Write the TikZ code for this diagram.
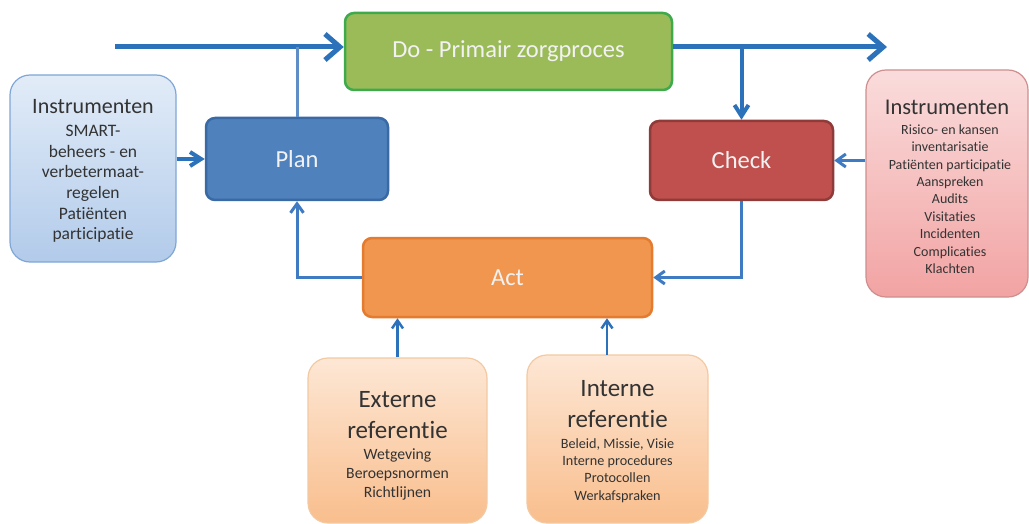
\documentclass[tikz,border=0pt]{standalone}
\usepackage{fontspec}
\setmainfont[Ligatures=NoCommon]{Carlito}
\usetikzlibrary{arrows.meta}
\definecolor{flowblue}{HTML}{2C72BA}
\definecolor{linkblue}{HTML}{3F7BC2}
\definecolor{paleblue}{HTML}{5F8DC6}
\definecolor{planfill}{HTML}{4F81BD}
\definecolor{planline}{HTML}{3A6AA6}
\definecolor{dofill}{HTML}{9BBB59}
\definecolor{doline}{HTML}{3EAA4C}
\definecolor{checkfill}{HTML}{C0504D}
\definecolor{checkline}{HTML}{8E3B39}
\definecolor{actfill}{HTML}{F0964F}
\definecolor{actline}{HTML}{E47B2E}
\definecolor{bluetop}{HTML}{E2ECF8}
\definecolor{bluebot}{HTML}{B2CBEA}
\definecolor{blueline}{HTML}{7FA6D6}
\definecolor{pinktop}{HTML}{FADCDC}
\definecolor{pinkbot}{HTML}{F2A3A3}
\definecolor{pinkline}{HTML}{CF8E8E}
\definecolor{peachtop}{HTML}{FDE7D5}
\definecolor{peachbot}{HTML}{F9BE8D}
\definecolor{peachline}{HTML}{F3C9A2}
\definecolor{boxtext}{HTML}{333333}
\tikzset{
  stagebox/.style={rectangle, rounded corners=9pt, line width=2.5pt, inner sep=0pt,
    text=white!95!black, font=\fontsize{24.5}{29}\selectfont},
  infobox/.style={rectangle, rounded corners=20pt, line width=1.2pt, inner sep=0pt},
  titletext/.style={inner sep=0pt, text=boxtext, align=center},
  bodytext/.style={inner sep=0pt, text=boxtext, align=center},
  mainflow/.style={draw=flowblue, line width=5pt, -{Straight Barb[length=15pt,width=26pt]}},
  branchflow/.style={draw=flowblue, line width=4pt, -{Straight Barb[length=11pt,width=14pt]}},
  feedflow/.style={draw=linkblue, line width=3pt, -{Straight Barb[length=9pt,width=13pt]}},
  paleline/.style={draw=paleblue, line width=3pt},
  upflow/.style={draw=flowblue, line width=2.5pt, -{Straight Barb[length=8pt,width=11pt]}}
}
\begin{document}
\begin{tikzpicture}[x=1pt,y=-1pt]
\useasboundingbox (0,0) rectangle (1029,524);

% stage boxes
\node[stagebox, fill=dofill, draw=doline, minimum width=327pt, minimum height=77pt] (do) at (508.5,51.5) {Do - Primair zorgproces};
\node[stagebox, fill=planfill, draw=planline, minimum width=182pt, minimum height=82pt] (plan) at (297,159) {Plan};
\node[stagebox, fill=checkfill, draw=checkline, minimum width=183pt, minimum height=79pt] (check) at (741.5,160.5) {Check};
\node[stagebox, fill=actfill, draw=actline, minimum width=289pt, minimum height=79pt] (act) at (507.5,277.5) {Act};

% info boxes
\node[infobox, top color=bluetop, bottom color=bluebot, draw=blueline, minimum width=166pt, minimum height=187pt] (linst) at (93,168.5) {};
\node[infobox, top color=pinktop, bottom color=pinkbot, draw=pinkline, minimum width=162pt, minimum height=227pt] (rinst) at (947,183.5) {};
\node[infobox, top color=peachtop, bottom color=peachbot, draw=peachline, minimum width=179pt, minimum height=165pt] (ext) at (397.5,440.5) {};
\node[infobox, top color=peachtop, bottom color=peachbot, draw=peachline, minimum width=181pt, minimum height=168pt] (int) at (617.5,439) {};

% texts of info boxes
\node[titletext, font=\fontsize{22}{26}\selectfont] (linsttitle) at (93,107) {Instrumenten};
\node[bodytext, font=\fontsize{17.5}{20.6}\selectfont] (linstbody) at (93,184) {SMART-\\beheers - en\\verbetermaat-\\regelen\\Patiënten\\participatie};
\node[titletext, font=\fontsize{22.5}{26}\selectfont] (rinsttitle) at (947,107) {Instrumenten};
\node[bodytext, font=\fontsize{14}{17.4}\selectfont] (rinstbody) at (950,199) {Risico- en kansen\\inventarisatie\\Patiënten participatie\\Aanspreken\\Audits\\Visitaties\\Incidenten\\Complicaties\\Klachten};
\node[titletext, font=\fontsize{25}{31}\selectfont] (exttitle) at (397.5,415) {Externe\\referentie};
\node[bodytext, font=\fontsize{15.7}{19}\selectfont] (extbody) at (397.5,474.5) {Wetgeving\\Beroepsnormen\\Richtlijnen};
\node[titletext, font=\fontsize{25}{31}\selectfont] (inttitle) at (617.5,404) {Interne\\referentie};
\node[bodytext, font=\fontsize{14.2}{17.3}\selectfont] (intbody) at (617.5,470.5) {Beleid, Missie, Visie\\Interne procedures\\Protocollen\\Werkafspraken};

% connectors
\coordinate (instart) at (115,47);
\coordinate (outend) at (887,47);
\coordinate (intin) at (607,355);
\draw[mainflow] (instart) -- (instart -| do.west);
\draw[mainflow] (instart -| do.east) -- (outend);
\draw[paleline] (instart -| plan.north) -- (plan.north);
\draw[branchflow] (outend -| check.north) -- (check.north);
\draw[branchflow] (plan.west -| linst.east) -- (plan.west);
\draw[feedflow] (check.east -| rinst.west) -- (check.east);
\draw[feedflow] (check.south) |- (act.east);
\draw[feedflow] (act.west) -| (plan.south);
\draw[upflow] (ext.north) -- (ext.north |- act.south);
\draw[upflow] (intin) -- (intin |- act.south);
\end{tikzpicture}
\end{document}
